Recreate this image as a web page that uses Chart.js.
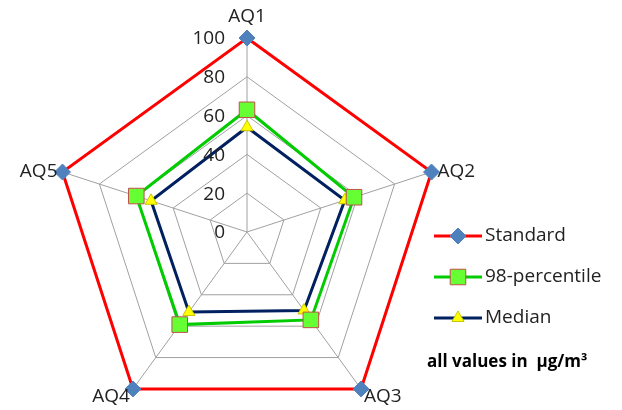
<!DOCTYPE html>
<html>
<head>
<meta charset="utf-8">
<script src="https://cdn.jsdelivr.net/npm/chart.js@4/dist/chart.umd.min.js"></script>
<style>
  body { margin: 0; background: #fff; }
  #wrap { width: 622px; height: 410px; position: relative; }
</style>
</head>
<body>
<div id="wrap"><canvas id="chart"></canvas></div>
<script>
const labels = ["AQ1", "AQ2", "AQ3", "AQ4", "AQ5"];
const standard = [100, 100, 100, 100, 100];
const percentile98 = [63, 58, 56, 59, 60];
const median = [54, 53, 50, 51, 52];
const tickValues = [0, 20, 40, 60, 80, 100];
const unitNote = "all values in  \u00b5g/m\u00b3";

const FONT = "'Open Sans', sans-serif";

// marker drawing shared by the legend
function drawMarker(ctx, ds, x, y) {
    ctx.save();
    ctx.fillStyle = ds.pointBackgroundColor;
    ctx.strokeStyle = ds.pointBorderColor;
    ctx.lineWidth = ds.pointBorderWidth;
    Chart.helpers.drawPoint(ctx, {
        pointStyle: ds.pointStyle,
        radius: ds.pointRadius,
        rotation: 0,
        borderWidth: ds.pointBorderWidth
    }, x, y);
    ctx.restore();
}

const radarLayout = {
    id: "radarLayout",
    afterLayout(chart) {
        const r = chart.scales.r;
        r.xCenter = 247;
        r.yCenter = 232;
        r.drawingArea = 194;
    },
    afterDraw(chart) {
        const ctx = chart.ctx;
        const r = chart.scales.r;
        ctx.save();
        ctx.fillStyle = "#222";

        // value ticks, left of the vertical axis
        ctx.font = "19px " + FONT;
        ctx.textAlign = "right";
        ctx.textBaseline = "middle";
        tickValues.forEach(v => {
            const p = r.getPointPositionForValue(0, v);
            ctx.fillText(String(v), p.x - 22, p.y + 1);
        });

        // category labels round the outside
        const place = [
            { dx: 0, dy: -21, align: "center" },
            { dx: 6, dy: 0, align: "left" },
            { dx: 3, dy: 8, align: "left" },
            { dx: -3, dy: 8, align: "right" },
            { dx: -5, dy: 0, align: "right" }
        ];
        labels.forEach((lab, i) => {
            const p = r.getPointPosition(i, r.drawingArea);
            ctx.textAlign = place[i].align;
            ctx.fillText(lab, p.x + place[i].dx, p.y + place[i].dy);
        });

        // legend
        ctx.font = "19px " + FONT;
        ctx.textAlign = "left";
        const rows = [236, 277, 318];
        chart.data.datasets.forEach((ds, i) => {
            const y = rows[i];
            ctx.strokeStyle = ds.borderColor;
            ctx.lineWidth = ds.borderWidth;
            ctx.beginPath();
            ctx.moveTo(434, y);
            ctx.lineTo(482, y);
            ctx.stroke();
            drawMarker(ctx, ds, 458, y);
            ctx.fillStyle = "#222";
            ctx.fillText(ds.label, 485, y);
        });

        ctx.font = "bold 17px " + FONT;
        ctx.fillStyle = "#000";
        ctx.fillText(unitNote, 427, 362);
        ctx.restore();
    }
};

new Chart(document.getElementById("chart"), {
    type: "radar",
    data: {
        labels: labels,
        datasets: [
            {
                label: "Standard",
                data: standard,
                borderColor: "#ff0000",
                borderWidth: 3,
                fill: false,
                pointStyle: "rectRot",
                pointRadius: 8,
                pointBackgroundColor: "#4f81bd",
                pointBorderColor: "#4f81bd",
                pointBorderWidth: 1
            },
            {
                label: "98-percentile",
                data: percentile98,
                borderColor: "#00cc00",
                borderWidth: 3,
                fill: false,
                pointStyle: "rect",
                pointRadius: 11,
                pointBackgroundColor: "#66ff33",
                pointBorderColor: "#c0504d",
                pointBorderWidth: 1
            },
            {
                label: "Median",
                data: median,
                borderColor: "#002060",
                borderWidth: 3,
                fill: false,
                pointStyle: "triangle",
                pointRadius: 7,
                pointBackgroundColor: "#ffff00",
                pointBorderColor: "#c8c800",
                pointBorderWidth: 1
            }
        ]
    },
    options: {
        responsive: true,
        maintainAspectRatio: false,
        animation: false,
        devicePixelRatio: 1,
        plugins: {
            legend: { display: false },
            tooltip: { enabled: false }
        },
        scales: {
            r: {
                min: 0,
                max: 100,
                ticks: { stepSize: 20, display: false },
                pointLabels: { display: false },
                grid: { color: "#a0a0a0", lineWidth: 1 },
                angleLines: { color: "#a0a0a0", lineWidth: 1 }
            }
        }
    },
    plugins: [radarLayout]
});
</script>
</body>
</html>
